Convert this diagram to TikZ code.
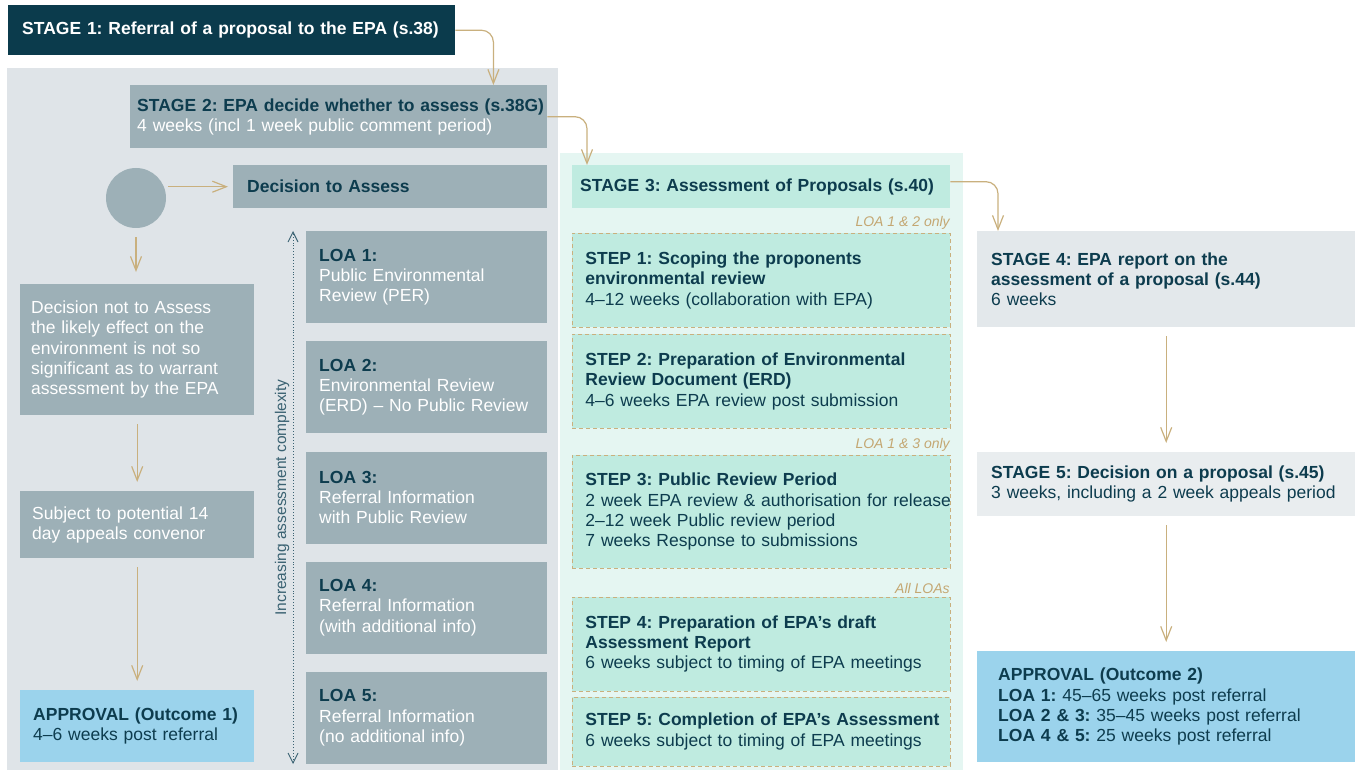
\documentclass[tikz,border=0pt]{standalone}
\usepackage{fontspec}
\setmainfont{Liberation Sans}
\usetikzlibrary{arrows.meta,positioning}
\frenchspacing

\definecolor{navy}{HTML}{0B3B4C}
\definecolor{ink}{HTML}{0D3C4E}
\definecolor{slate}{HTML}{9DB0B7}
\definecolor{panelgrey}{HTML}{DFE4E8}
\definecolor{mint}{HTML}{BFEBE0}
\definecolor{panelmint}{HTML}{E5F6F2}
\definecolor{paleone}{HTML}{E3E8EB}
\definecolor{paletwo}{HTML}{E9EDEF}
\definecolor{skyblue}{HTML}{9BD3EC}
\definecolor{gold}{HTML}{C9B07E}
\definecolor{notegold}{HTML}{C4A772}
\definecolor{scaleink}{HTML}{3A6272}

\newcommand{\boxhead}[1]{\textcolor{ink}{\textbf{#1}}}

\begin{document}
\begin{tikzpicture}[
    x=1pt, y=-1pt,
    node distance=17.75pt,
    font=\fontsize{17.5}{20.3}\selectfont,
    box/.style={anchor=north west, align=left, inner xsep=13pt, inner ysep=2pt, text=ink},
    greybox/.style={box, fill=slate, text=white},
    loabox/.style={greybox, text width=215pt, minimum height=92pt},
    leftbox/.style={greybox, inner xsep=12pt, text width=210pt},
    stepbox/.style={box, fill=mint, draw=gold, line width=0.9pt, dash pattern=on 4pt off 3pt, text width=352pt},
    stagebox/.style={box, inner xsep=14pt, text width=350pt},
    flow/.style={draw=gold, line width=1.2pt, -{Straight Barb[length=14pt,width=11pt]}, shorten <=9pt, shorten >=9pt},
    elbow/.style={draw=gold, line width=1.2pt, rounded corners=12pt, -{Straight Barb[length=14pt,width=11pt]}},
    note/.style={anchor=south east, inner sep=1pt, font=\fontsize{14}{16}\selectfont\itshape, text=notegold},
    scalearrow/.style={draw=scaleink, line width=0.9pt, dotted, >={Straight Barb[length=10pt,width=10pt]}, <->}
  ]
  \useasboundingbox (0,0) rectangle (1360,770);

  % background panels
  \fill[panelgrey] (7,68) rectangle (558,770);
  \fill[panelmint] (560,153) rectangle (963,770);

  % stage 1 and 2
  \node[box, fill=navy, text=white, inner xsep=14pt, text width=419pt, minimum height=50pt] (stage1) at (8,5)
    {\textbf{STAGE 1: Referral of a proposal to the EPA (s.38)}};
  \node[greybox, inner xsep=7pt, text width=403pt, minimum height=63pt] (stage2) at (130,85)
    {\mbox{\boxhead{STAGE 2: EPA decide whether to assess (s.38G)}}\\4 weeks (incl 1 week public comment period)};

  % decision fork
  \node[circle, fill=slate, minimum size=60pt, inner sep=0pt] (fork) at (136,198) {};
  \node[greybox, inner xsep=14pt, text width=286pt, minimum height=43pt] (decide) at (233,165)
    {\boxhead{Decision to Assess}};
  \node[leftbox, inner xsep=11pt, text width=212pt, minimum height=131pt] (notassess) at (20,284)
    {Decision not to Assess\\the likely effect on the\\environment is not so\\significant as to warrant\\assessment by the EPA};
  \node[leftbox, minimum height=67pt] (appeal) at (20,491)
    {Subject to potential 14\\day appeals convenor};
  \node[box, fill=skyblue, text width=208pt, minimum height=72pt] (approve1) at (20,690)
    {\textbf{APPROVAL (Outcome 1)}\\4–6 weeks post referral};

  % levels of assessment
  \node[loabox] (loa1) at (306,231) {\boxhead{LOA 1:}\\Public Environmental\\Review (PER)};
  \node[loabox, below=of loa1] (loa2) {\boxhead{LOA 2:}\\Environmental Review\\(ERD) – No Public Review};
  \node[loabox, below=of loa2] (loa3) {\boxhead{LOA 3:}\\Referral Information\\with Public Review};
  \node[loabox, below=of loa3] (loa4) {\boxhead{LOA 4:}\\Referral Information\\(with additional info)};
  \node[loabox, below=of loa4] (loa5) {\boxhead{LOA 5:}\\Referral Information\\(no additional info)};

  % stage 3 and its steps
  \node[box, fill=mint, inner xsep=8pt, text width=362pt, minimum height=43pt] (stage3) at (572,165)
    {\textbf{STAGE 3: Assessment of Proposals (s.40)}};
  \node[stepbox, minimum height=94pt] (step1) at (572,233)
    {\textbf{STEP 1: Scoping the proponents}\\\textbf{environmental review}\\4–12 weeks (collaboration with EPA)};
  \node[stepbox, minimum height=94pt, below=6pt of step1] (step2)
    {\textbf{STEP 2: Preparation of Environmental}\\\textbf{Review Document (ERD)}\\4–6 weeks EPA review post submission};
  \node[stepbox, minimum height=113pt, below=26pt of step2] (step3)
    {\textbf{STEP 3: Public Review Period}\\\mbox{2 week EPA review \& authorisation for release}\\2–12 week Public review period\\7 weeks Response to submissions};
  \node[stepbox, minimum height=94pt, below=28pt of step3] (step4)
    {\textbf{STEP 4: Preparation of EPA’s draft}\\\textbf{Assessment Report}\\6 weeks subject to timing of EPA meetings};
  \node[stepbox, minimum height=69pt, below=5pt of step4] (step5)
    {\mbox{\textbf{STEP 5: Completion of EPA’s Assessment}}\\6 weeks subject to timing of EPA meetings};
  \node[note] (note1) at ([yshift=2pt]step1.north east) {LOA 1 \& 2 only};
  \node[note] (note2) at ([yshift=2pt]step3.north east) {LOA 1 \& 3 only};
  \node[note] (note3) at ([yshift=2pt]step4.north east) {All LOAs};

  % stages 4, 5 and outcome
  \node[stagebox, fill=paleone, minimum height=96pt] (stage4) at (977,231)
    {\textbf{STAGE 4: EPA report on the}\\\textbf{assessment of a proposal (s.44)}\\6 weeks};
  \node[stagebox, fill=paletwo, minimum height=64pt] (stage5) at (977,452)
    {\textbf{STAGE 5: Decision on a proposal (s.45)}\\3 weeks, including a 2 week appeals period};
  \node[box, fill=skyblue, inner xsep=21pt, text width=336pt, minimum height=111pt] (approve2) at (977,651)
    {\textbf{APPROVAL (Outcome 2)}\\\textbf{LOA 1:} 45–65 weeks post referral\\\textbf{LOA 2 \& 3:} 35–45 weeks post referral\\\textbf{LOA 4 \& 5:} 25 weeks post referral};

  % connectors
  \draw[elbow] (stage1.east) -| ([xshift=-54pt]stage2.north east);
  \draw[elbow] (stage2.east) -| ([xshift=15pt]stage3.north west);
  \draw[elbow] ([yshift=5pt]stage3.east) -| ([xshift=21pt]stage4.north west);
  \draw[flow, shorten <=2pt, shorten >=5pt] (fork.east |- decide.west) -- (decide.west);
  \draw[flow, shorten >=12pt] (fork.south) -- (fork.south |- notassess.north);
  \draw[flow] (notassess) -- (appeal);
  \draw[flow] (appeal) -- (approve1);
  \draw[flow] (stage4) -- (stage5);
  \draw[flow] (stage5) -- (approve2);
  \draw[scalearrow] ([xshift=-13pt]loa5.south west) -- ([xshift=-13pt]loa1.north west)
    node[midway, above, sloped, font=\fontsize{15.5}{17}\selectfont, text=scaleink] {Increasing assessment complexity};
\end{tikzpicture}
\end{document}
